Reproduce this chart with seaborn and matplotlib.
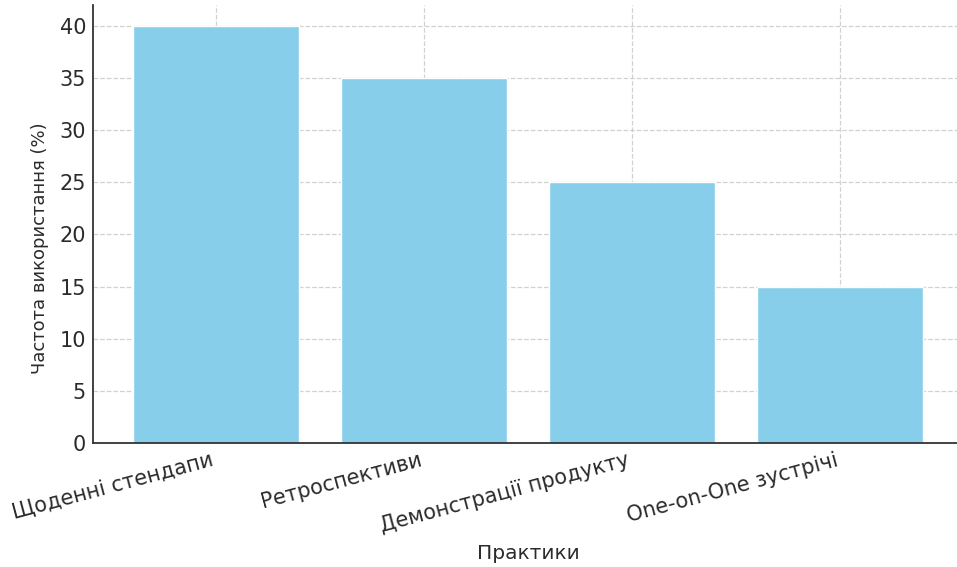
import matplotlib
matplotlib.use("Agg")
import matplotlib.pyplot as plt
import seaborn as sns
import pandas as pd

practices = ["Щоденні стендапи", "Ретроспективи", "Демонстрації продукту", "One-on-One зустрічі"]
usage_pct = [40, 35, 25, 15]

df = pd.DataFrame({"practice": practices, "usage": usage_pct})

sns.set_theme(style="white")
plt.rcParams["font.family"] = ["DejaVu Sans"]
plt.rcParams["text.color"] = "#2b2b2b"
plt.rcParams["axes.labelcolor"] = "#2b2b2b"
plt.rcParams["xtick.color"] = "#2b2b2b"
plt.rcParams["ytick.color"] = "#2b2b2b"

fig = plt.figure(figsize=(9.57, 5.67), dpi=100)
ax = fig.add_axes([93 / 957, (567 - 443) / 567, (963 - 93) / 957, (443 - 5) / 567])

sns.barplot(data=df, x="practice", y="usage", color="#87CEEB", saturation=1,
            width=0.8, ax=ax)

ax.set_xlim(-0.59, 3.59)
ax.set_ylim(0, 42)
ax.set_yticks(range(0, 41, 5))

ax.grid(True, linestyle="--", color="#cccccc", linewidth=0.9, alpha=0.9)
ax.set_axisbelow(True)

for side in ("top", "right"):
    ax.spines[side].set_visible(False)
for side in ("left", "bottom"):
    ax.spines[side].set_color("#333333")
    ax.spines[side].set_linewidth(1.3)

ax.tick_params(axis="both", direction="in", length=4, width=1, labelsize=15, pad=5)
plt.setp(ax.get_xticklabels(), rotation=15, ha="right")

ax.set_xlabel("Практики", fontsize=14.5, labelpad=6)
ax.set_ylabel("Частота використання (%)", fontsize=13)
ax.yaxis.set_label_coords(-0.050, 0.445)

fig.savefig("out.png", dpi=100)
